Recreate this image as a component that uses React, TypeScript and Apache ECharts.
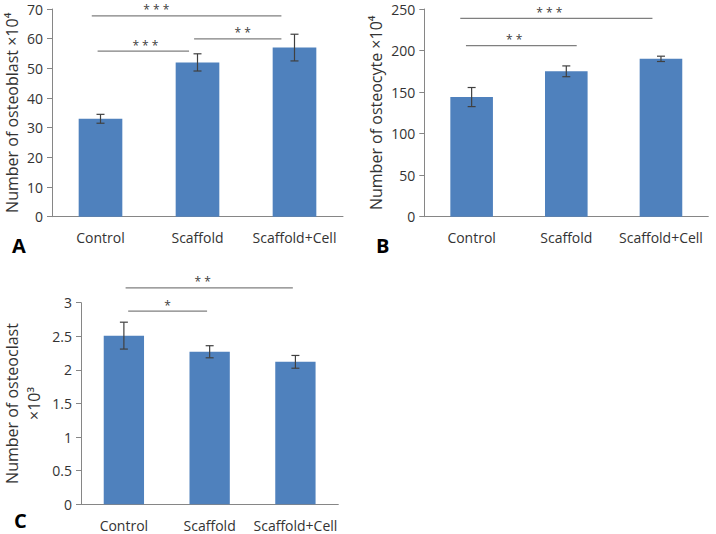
import React, { useEffect, useRef } from "react";
import * as echarts from "echarts";

const categories = ["Control", "Scaffold", "Scaffold+Cell"];

const osteoblast = [33, 52, 57];
const osteoblastErr = [1.5, 2.9, 4.5];
const osteocyte = [144, 175, 190];
const osteocyteErr = [11.5, 6.5, 3.2];
const osteoclast = [2.51, 2.27, 2.12];
const osteoclastErr = [0.2, 0.09, 0.095];

// brackets: [y value, from (category position), to (category position), label x (category position)]
const bracketsA = [
  [67.7, -0.09, 1.865, 0.575],
  [55.8, -0.03, 0.913, 0.463],
  [59.9, 0.965, 1.865, 1.466],
];
const bracketLabelsA = ["* * *", "* * *", "* *"];
const bracketsB = [
  [238.8, -0.12, 1.91, 0.82],
  [205.8, -0.06, 1.11, 0.45],
];
const bracketLabelsB = ["* * *", "* *"];
const bracketsC = [
  [3.22, 0.02, 1.97, 0.92],
  [2.876, 0.05, 0.97, 0.51],
];
const bracketLabelsC = ["* *", "*"];

const FONT = "'Open Sans', 'Noto Sans', sans-serif";
const BAR = "#4F81BD";
const AXIS = "#868686";
const TXT = "#333333";

function makeErrSeries(idx: number, vals: number[], errs: number[]) {
  return {
    type: "custom",
    xAxisIndex: idx,
    yAxisIndex: idx,
    encode: { x: 0, y: 1 },
    data: vals.map((v, i) => [i, v, errs[i]]),
    z: 5,
    renderItem: (params: any, api: any) => {
      const x = api.value(0);
      const v = api.value(1);
      const e = api.value(2);
      const hi = api.coord([x, v + e]);
      const lo = api.coord([x, v - e]);
      const cx = hi[0];
      const cap = 4;
      const style = { stroke: "#404040", lineWidth: 1.2 };
      return {
        type: "group",
        children: [
          { type: "line", shape: { x1: cx, y1: hi[1], x2: cx, y2: lo[1] }, style },
          { type: "line", shape: { x1: cx - cap, y1: hi[1], x2: cx + cap, y2: hi[1] }, style },
          { type: "line", shape: { x1: cx - cap, y1: lo[1], x2: cx + cap, y2: lo[1] }, style },
        ],
      };
    },
  };
}

function makeBracketSeries(idx: number, br: number[][], labels: string[]) {
  return {
    type: "custom",
    xAxisIndex: idx,
    yAxisIndex: idx,
    encode: { x: 0, y: 1 },
    clip: false,
    data: br.map((b) => [0, b[0], b[1], b[2], b[3]]),
    z: 6,
    renderItem: (params: any, api: any) => {
      const y = api.value(1);
      const p0 = api.coord([0, y]);
      const band = api.size([1, 0])[0];
      const x1 = p0[0] + api.value(2) * band;
      const x2 = p0[0] + api.value(3) * band;
      const lx = p0[0] + api.value(4) * band;
      return {
        type: "group",
        children: [
          {
            type: "line",
            shape: { x1, y1: p0[1], x2, y2: p0[1] },
            style: { stroke: "#7F7F7F", lineWidth: 1.3 },
          },
          {
            type: "text",
            x: lx,
            y: p0[1] - 6,
            style: {
              text: labels[params.dataIndex],
              fill: "#404040",
              font: `12px ${FONT}`,
              textAlign: "center",
              textVerticalAlign: "middle",
            },
          },
        ],
      };
    },
  };
}

function xAxis(idx: number) {
  return {
    type: "category",
    gridIndex: idx,
    data: categories,
    axisLine: { lineStyle: { color: AXIS, width: 1 } },
    axisTick: { alignWithLabel: true, length: 5, lineStyle: { color: AXIS } },
    axisLabel: { color: TXT, fontSize: 14, fontFamily: FONT, margin: 14, interval: 0 },
  };
}

function yAxis(idx: number, max: number, interval: number, name: string, nameGap: number) {
  return {
    type: "value",
    gridIndex: idx,
    min: 0,
    max,
    interval,
    name,
    nameLocation: "middle",
    nameRotate: 90,
    nameGap,
    nameTextStyle: { color: TXT, fontSize: 16, fontFamily: FONT, lineHeight: 22 },
    splitLine: { show: false },
    axisLine: { show: true, lineStyle: { color: AXIS, width: 1 } },
    axisTick: { show: true, length: 5, lineStyle: { color: AXIS } },
    axisLabel: { color: TXT, fontSize: 14, fontFamily: FONT, margin: 9 },
  };
}

export default function App() {
  const ref = useRef<HTMLDivElement>(null);
  useEffect(() => {
    document.body.style.margin = "0";
    const chart = echarts.init(ref.current!, null, { renderer: "svg" });
    chart.setOption({
      animation: false,
      backgroundColor: "#ffffff",
      grid: [
        { left: 50, top: 9, width: 293, height: 207.7 },
        { left: 424.3, top: 9, width: 284, height: 207.7 },
        { left: 78.3, top: 302.7, width: 260, height: 201.6 },
      ],
      xAxis: [xAxis(0), xAxis(1), xAxis(2)],
      yAxis: [
        yAxis(0, 70, 10, "Number of osteoblast ×10⁴", 29),
        yAxis(1, 250, 50, "Number of osteocyte ×10⁴", 37),
        yAxis(2, 3, 0.5, "Number of osteoclast\n×10³", 36),
      ],
      graphic: [
        { type: "text", left: 12, top: 235, style: { text: "A", font: `bold 20px ${FONT}`, fill: "#000" } },
        { type: "text", left: 376, top: 235, style: { text: "B", font: `bold 20px ${FONT}`, fill: "#000" } },
        { type: "text", left: 14, top: 510, style: { text: "C", font: `bold 20px ${FONT}`, fill: "#000" } },
      ],
      series: [
        { type: "bar", xAxisIndex: 0, yAxisIndex: 0, data: osteoblast, barWidth: "45%", itemStyle: { color: BAR } },
        { type: "bar", xAxisIndex: 1, yAxisIndex: 1, data: osteocyte, barWidth: "45%", itemStyle: { color: BAR } },
        { type: "bar", xAxisIndex: 2, yAxisIndex: 2, data: osteoclast, barWidth: "47%", itemStyle: { color: BAR } },
        makeErrSeries(0, osteoblast, osteoblastErr),
        makeErrSeries(1, osteocyte, osteocyteErr),
        makeErrSeries(2, osteoclast, osteoclastErr),
        makeBracketSeries(0, bracketsA, bracketLabelsA),
        makeBracketSeries(1, bracketsB, bracketLabelsB),
        makeBracketSeries(2, bracketsC, bracketLabelsC),
      ],
    });
    return () => chart.dispose();
  }, []);
  return <div ref={ref} style={{ width: 716, height: 534 }} />;
}
